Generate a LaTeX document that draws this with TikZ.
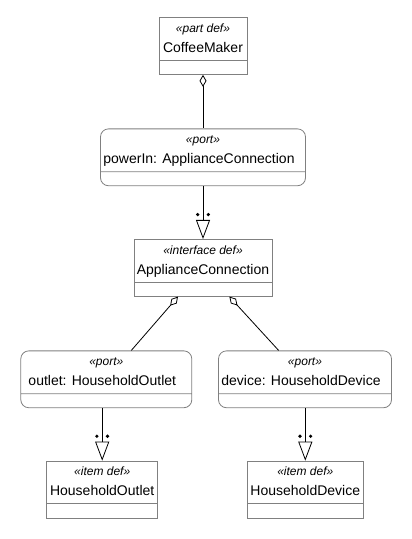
\documentclass[tikz,border=0pt]{standalone}
\usepackage{fontspec}
\setmainfont{Liberation Sans}
\usetikzlibrary{shapes.multipart,arrows.meta}

\definecolor{boxgray}{RGB}{128,128,128}

% stereotype line and a strut for the last line
\newcommand{\stereo}[1]{{\fontsize{12}{20}\selectfont\itshape\rule{0pt}{10.5pt}«#1»}}
\newcommand{\lastline}{\rule[-3.5pt]{0pt}{3.5pt}}
\newcommand{\portline}{\hspace{8pt}\lastline}

\tikzset{
  defbox/.style={rectangle split, rectangle split parts=2,
    rectangle split empty part height=0pt, rectangle split empty part depth=0pt,
    draw=boxgray, fill=white, line width=0.8pt, align=center,
    inner xsep=2pt, inner ysep=4pt, font=\fontsize{14}{20}\selectfont},
  portbox/.style={defbox, rounded corners=8pt},
  owns/.style={{Diamond[open,fill=white,length=12pt,width=7pt]}-, line width=0.8pt},
  subsets/.style={-{Triangle[open,fill=white,length=19pt,width=14pt]}, line width=0.8pt},
}

\begin{document}
\begin{tikzpicture}[x=1pt,y=-1pt]

  \useasboundingbox (0,0) rectangle (412,539);

  \node[defbox, minimum width=88] (maker) at (203,46)
    {\stereo{part def}\\CoffeeMaker\lastline};

  \node[portbox, minimum width=205] (power) at (203,157.3)
    {\stereo{port}\\powerIn: ApplianceConnection\portline};

  \node[defbox, minimum width=138] (conn) at (203,267.8)
    {\stereo{interface def}\\ApplianceConnection\lastline};

  \node[portbox, minimum width=171] (outlet) at (106.3,379.3)
    {\stereo{port}\\outlet: HouseholdOutlet\portline};

  \node[portbox, minimum width=173] (device) at (305,379.3)
    {\stereo{port}\\device: HouseholdDevice\portline};

  \node[defbox, minimum width=111] (hsout) at (102.2,489.5)
    {\stereo{item def}\\HouseholdOutlet\lastline};

  \node[defbox, minimum width=116] (hsdev) at (305.3,489.5)
    {\stereo{item def}\\HouseholdDevice\lastline};

  % ownership
  \draw[owns] (maker.south) -- (power.north);
  \draw[owns] (conn) -- (outlet);
  \draw[owns] (conn) -- (device);

  % typed by
  \draw[subsets] (power.south) -- (conn.north);
  \draw[subsets] (hsout.north |- outlet.south) -- (hsout.north);
  \draw[subsets] (hsdev.north |- device.south) -- (hsdev.north);

  \foreach \n in {conn,hsout,hsdev}
    \fill ([xshift=-5.3pt,yshift=24.4pt]\n.north) circle (1.8pt)
          ([xshift=5.3pt,yshift=24.4pt]\n.north) circle (1.8pt);

\end{tikzpicture}
\end{document}
